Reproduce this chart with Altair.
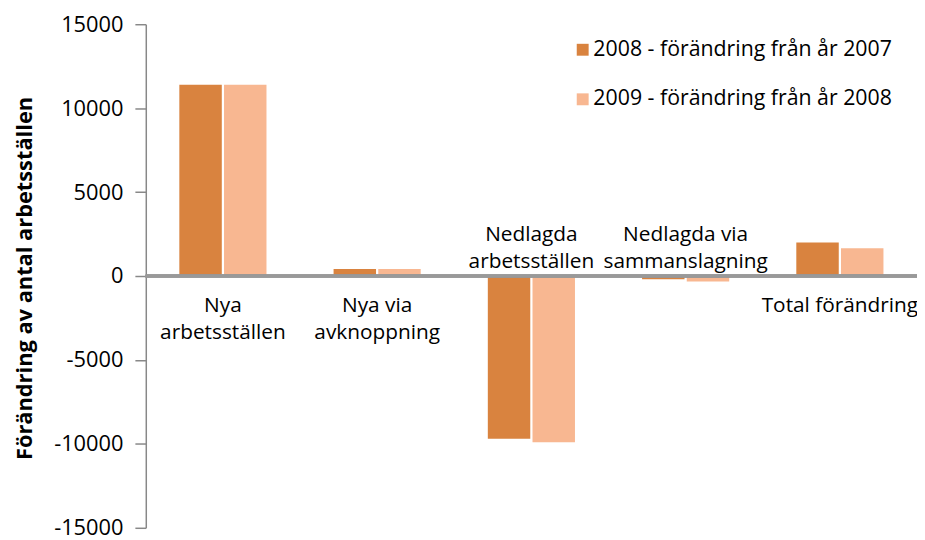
import altair as alt
import pandas as pd

categories = ["Nya\narbetsställen", "Nya via\navknoppning", "Nedlagda\narbetsställen",
              "Nedlagda via\nsammanslagning", "Total förändring"]
series = ["2008 - förändring från år 2007", "2009 - förändring från år 2008"]
values_2008 = [11400, 420, -9700, -200, 2000]
values_2009 = [11400, 420, -9900, -320, 1650]
y_ticks = [-15000, -10000, -5000, 0, 5000, 10000, 15000]
colors = ["#D9833F", "#F8B791"]

rows = []
for i, c in enumerate(categories):
    rows.append({"cat": c, "series": series[0], "value": values_2008[i]})
    rows.append({"cat": c, "series": series[1], "value": values_2009[i]})
bars_df = pd.DataFrame(rows)

labels_df = pd.DataFrame({
    "cat": categories,
    "side": ["below" if min(a, b) >= 0 else "above" for a, b in zip(values_2008, values_2009)],
})

FONT = "Open Sans"
FS = 21

xenc = alt.X("cat:N", sort=categories,
             scale=alt.Scale(paddingInner=0.435, paddingOuter=0.2175), axis=None)

bars = alt.Chart(bars_df).mark_bar().encode(
    x=xenc,
    xOffset=alt.XOffset("series:N", sort=series, scale=alt.Scale(paddingInner=0.05)),
    y=alt.Y("value:Q", scale=alt.Scale(domain=[-15000, 15000], nice=False),
            axis=alt.Axis(values=y_ticks, grid=False, tickSize=11, domainColor="#888888",
                          tickColor="#888888", domainWidth=1.5, tickWidth=1.5,
                          labelExpr="datum.value + ''",
                          labelFontSize=22, labelFont=FONT, labelColor="black", labelPadding=12,
                          title="Förändring av antal arbetsställen", titleFont=FONT,
                          titleFontSize=22, titleFontWeight="bold", titleColor="black",
                          titleX=-110, titleY=256)),
    color=alt.Color("series:N", sort=series, scale=alt.Scale(domain=series, range=colors),
                    legend=alt.Legend(orient="none", legendX=430, legendY=15, title=None,
                                      symbolType="square", symbolSize=144, symbolStrokeWidth=0,
                                      labelFontSize=21.5, labelFont=FONT, labelColor="black",
                                      rowPadding=27, labelLimit=0, labelOffset=0)),
)

zero = alt.Chart(bars_df).mark_rule(color="#999999", strokeWidth=2.5).encode(y=alt.datum(0))

below = alt.Chart(labels_df).transform_filter(alt.datum.side == "below").mark_text(
    lineBreak="\n", baseline="top", dy=19, fontSize=FS, font=FONT, lineHeight=28, color="black"
).encode(x=xenc, y=alt.datum(0), text="cat:N")

above = alt.Chart(labels_df).transform_filter(alt.datum.side == "above").mark_text(
    lineBreak="\n", baseline="bottom", dy=-31, fontSize=FS, font=FONT, lineHeight=27, color="black"
).encode(x=xenc, y=alt.datum(0), text="cat:N")

chart = alt.layer(bars, zero, below, above).properties(
    width=778, height=508,
    padding={"left": 139, "top": 14, "right": 0, "bottom": 16},
    autosize=alt.AutoSizeParams(type="none"),
).configure_view(stroke=None)

chart.save("out.html", embed_options={"renderer": "svg", "actions": False})
